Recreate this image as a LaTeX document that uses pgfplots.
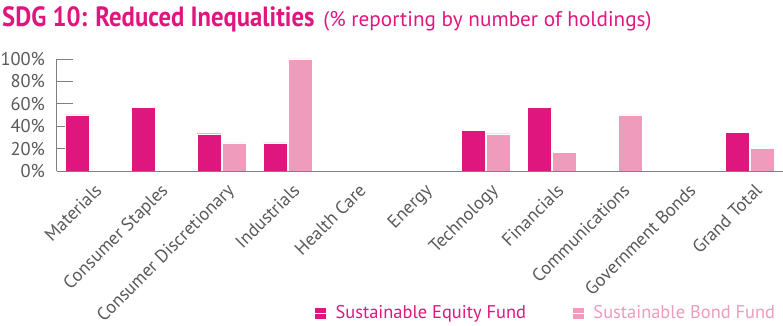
\documentclass[border=0pt]{standalone}
\usepackage{pgfplots}
\pgfplotsset{compat=1.18}
\usepackage{fontspec}
\setmainfont{PT Sans}
\newfontfamily\titlefont[FakeStretch=0.885]{PT Sans}
\newfontfamily\subfont{PT Sans}
\definecolor{eq}{HTML}{E0167F}
\definecolor{bd}{HTML}{EE9BBC}
\definecolor{tk}{HTML}{58595B}
\definecolor{ax}{HTML}{808080}
\pgfplotstableread{
x eq bd
0 50.0 0
1 57.1 0
2 33.3 25.0
3 25.0 100
4 0 0
5 0 0
6 36.4 33.3
7 57.1 16.7
8 0 50.0
9 0 0
10 34.5 20.4
}\data
\begin{document}
\begin{tikzpicture}
\path[use as bounding box] (0,0) rectangle (783bp,326bp);
\node[anchor=base west, inner sep=0, text=eq] at (2bp,299bp)
  {{\titlefont\fontsize{28}{30}\selectfont\bfseries SDG 10: Reduced Inequalities}\hspace{9bp}{\subfont\fontsize{21.3}{24}\selectfont(\% reporting by number of holdings)}};
\begin{axis}[
  at={(56.5bp,155bp)}, anchor=south west,
  scale only axis, width=726bp, height=112bp,
  xmin=-0.5, xmax=10.5, ymin=0, ymax=100,
  axis lines=left,
  axis line style={-, draw=ax, line width=0.8bp},
  ybar=1bp, bar width=24bp,
  xtick=data,
  xticklabels={Materials,Consumer Staples,Consumer Discretionary,Industrials,Health Care,Energy,Technology,Financials,Communications,Government Bonds,Grand Total},
  x tick label style={rotate=45, anchor=north east, font=\fontsize{18.3}{20}\selectfont, text=tk, inner sep=1bp, yshift=-10bp, xshift=-4bp},
  xtick style={draw=none},
  extra x ticks={0.5,1.5,2.5,3.5,4.5,5.5,6.5,7.5,8.5,9.5},
  extra x tick labels={},
  extra x tick style={tick style={draw=ax, line width=0.8bp}, major tick length=4bp, tick align=outside},
  ytick={0,20,40,60,80,100},
  yticklabel={\pgfmathprintnumber{\tick}\%},
  y tick label style={font=\fontsize{18.5}{20}\selectfont, text=tk, xshift=-8bp},
  ytick style={draw=ax, line width=0.8bp},
  tick align=inside, major tick length=17bp,
  /pgf/number format/assume math mode=true,
  legend style={at={(0.997,-1.268)}, anchor=east, draw=none, fill=none,
    legend columns=2, font=\fontsize{18.5}{20}\selectfont,
    /tikz/every even column/.append style={column sep=44bp}},
  legend image code/.code={\fill[#1] (0bp,-6bp) rectangle (12bp,6bp); \path (0bp,0bp) -- (19bp,0bp);},
]
\addplot[fill=eq, draw=white, line width=0.4bp] table[x=x,y=eq]{\data};
\addlegendentry{\textcolor{eq}{Sustainable Equity Fund}}
\addplot[fill=bd, draw=white, line width=0.4bp] table[x=x,y=bd]{\data};
\addlegendentry{\textcolor{bd}{Sustainable Bond Fund}}
\end{axis}
\end{tikzpicture}
\end{document}
